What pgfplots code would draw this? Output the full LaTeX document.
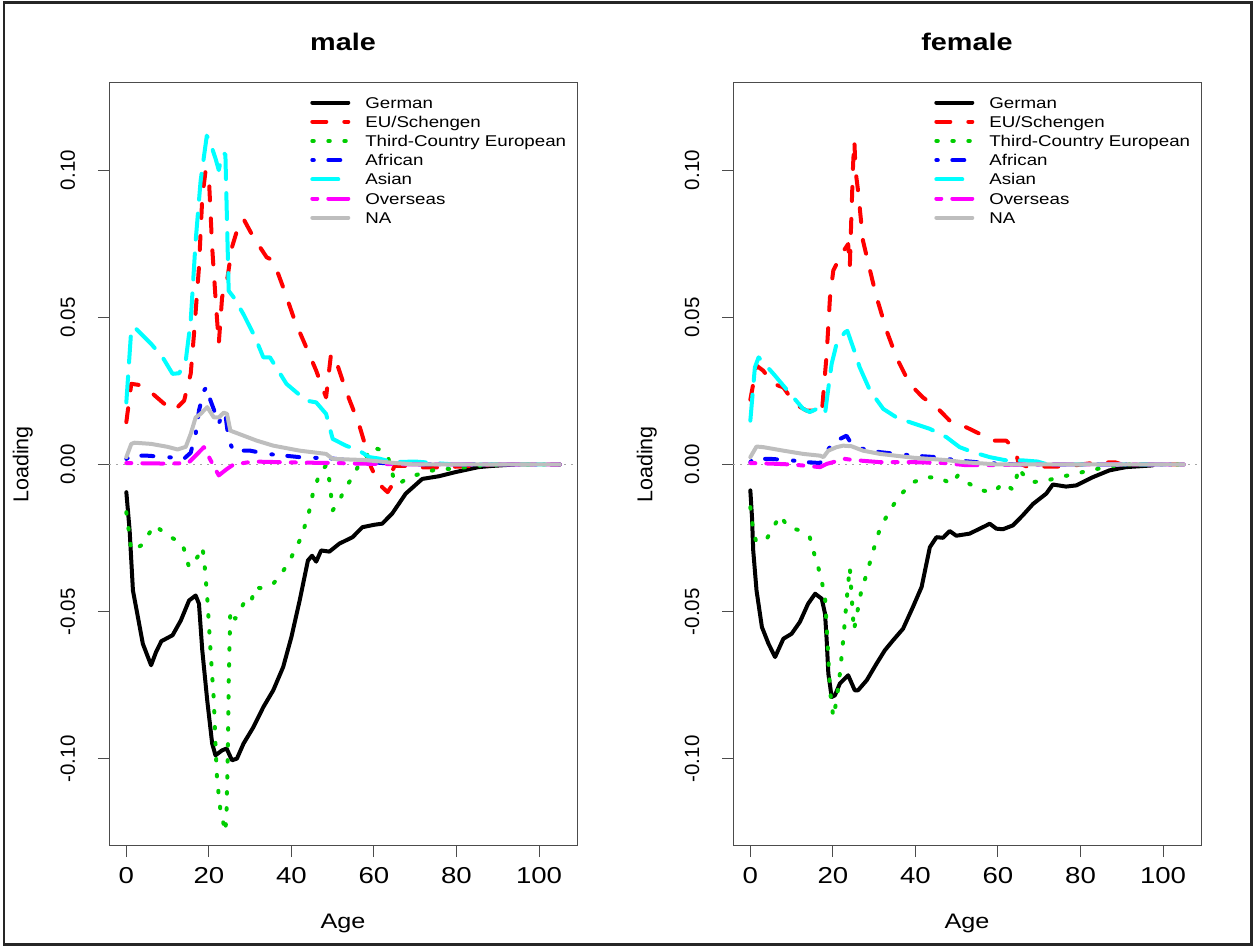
\documentclass[border=0pt]{standalone}
\usepackage{fontspec}
\setmainfont{Liberation Sans}[FakeStretch=1.2]
\newfontfamily\rotfont{Liberation Sans}
\usepackage{pgfplots}
\pgfplotsset{compat=1.18}
\definecolor{rgreen}{RGB}{0,205,0}
\definecolor{rgray}{RGB}{190,190,190}
\definecolor{rred}{RGB}{255,0,0}
\definecolor{rblue}{RGB}{0,0,255}
\definecolor{rcyan}{RGB}{0,255,255}
\definecolor{rmagenta}{RGB}{255,0,255}
\newcommand{\fs}[1]{\fontsize{#1}{#1}\selectfont}
\pgfplotsset{
  sGer/.style={black, solid},
  sEU/.style={rred, dash pattern=on 14bp off 18bp},
  sTC/.style={rgreen, dash pattern=on 1.5bp off 14.5bp},
  sAf/.style={rblue, dash pattern=on 1.5bp off 14.5bp on 12bp off 16bp},
  sAs/.style={rcyan, dash pattern=on 26bp off 14bp},
  sOv/.style={rmagenta, dash pattern=on 5bp off 11bp on 21bp off 11bp},
  sNA/.style={rgray, solid},
  panel/.style={
    scale only axis, width=468bp, height=763bp,
    xmin=-4.2, xmax=109.2, ymin=-0.1296, ymax=0.1296,
    axis line style={draw=black!70, line width=1bp},
    tick pos=left, tick align=outside, major tick length=11bp,
    tick style={draw=black!70, line width=1bp},
    xtick={0,20,40,60,80,100}, xticklabels={0,20,40,60,80,100},
    ytick={-0.1,-0.05,0,0.05,0.1}, yticklabels={-0.10,-0.05,0.00,0.05,0.10},
    xticklabel style={font=\fs{23bp}, anchor=north, inner sep=0pt, yshift=-10bp},
    yticklabel style={font=\rotfont\fs{20.5bp}, xshift=-23bp, rotate=90, anchor=base, inner sep=0pt},
    every axis x label/.style={at={(axis description cs:0.5,0)}, yshift=-82bp, anchor=base, font=\fs{21bp}},
    every axis y label/.style={at={(axis description cs:0,0.5)}, xshift=-80.7bp, rotate=90, anchor=base, font=\rotfont\fs{21.5bp}},
    title style={at={(axis description cs:0.5,1)}, yshift=27bp, anchor=base, inner sep=0pt, font=\bfseries\fs{24bp}},
    xlabel=Age, ylabel=Loading,
    legend style={draw=none, fill=none, at={(0.4297,0.982)}, anchor=north west, inner sep=0pt,
      row sep=8bp, nodes={inner sep=0pt, text height=11.2bp, text depth=0bp, font=\fs{15.6bp}},
      /tikz/every odd column/.append style={column sep=15bp}, cells={anchor=west}},
    legend image code/.code={\draw[#1] (0bp,0bp) -- (36bp,0bp);},
    every axis plot/.append style={line width=4bp, line cap=round, line join=round},
  }
}
\begin{document}
\begin{tikzpicture}
\useasboundingbox (0bp,0bp) rectangle (1255bp,947bp);
% ---------------- male ----------------
\begin{axis}[panel, at={(109bp,101bp)}, anchor=south west, title=male]
\addplot[forget plot, gray!70, line width=1bp, line cap=butt, dash pattern=on 2bp off 5bp] coordinates {(-4.2,0) (109.2,0)};
\addplot[sGer] coordinates {(0,-0.0094) (0.8,-0.0224) (1.6,-0.0428) (2.8,-0.0518) (4,-0.0609) (6,-0.0682) (7.2,-0.0637) (8.5,-0.0600) (9.6,-0.0592) (11.2,-0.058) (13.2,-0.053) (15.2,-0.0462) (16.8,-0.0445) (17.6,-0.0473) (18.4,-0.0631) (19.6,-0.0801) (20.8,-0.0948) (21.6,-0.0988) (23.2,-0.0971) (24.3,-0.0965) (25.6,-0.1005) (26.8,-0.0999) (28.4,-0.0948) (30.8,-0.0892) (33.2,-0.0824) (35.6,-0.0767) (38,-0.0688) (40,-0.0586) (42,-0.0462) (44,-0.0326) (45,-0.031) (46,-0.0330) (47.2,-0.0292) (49.2,-0.0296) (51.6,-0.0269) (54.8,-0.0247) (57.2,-0.0213) (60,-0.0205) (62,-0.0201) (64.4,-0.0167) (67.7,-0.0099) (71.7,-0.0049) (75.7,-0.0040) (79.7,-0.0026) (85.3,-0.0009) (88.5,-0.0005) (94,0)};
\addplot[sEU] coordinates {(0,0.0144) (1.2,0.0274) (3.2,0.027) (6,0.0245) (9.2,0.0206) (11.6,0.0183) (14,0.0217) (15.6,0.0308) (16.4,0.0444) (17.6,0.067) (18.4,0.0907) (19.2,0.0998) (20,0.0975) (20.8,0.0738) (21.6,0.0568) (22.4,0.041) (23.2,0.0568) (24.4,0.0625) (25.6,0.0738) (26.8,0.0794) (28.4,0.0834) (30.8,0.0772) (34,0.0704) (35.6,0.0693) (38,0.0602) (40.8,0.0489) (43.6,0.0398) (46,0.0319) (48.4,0.0228) (49.6,0.0376) (50.8,0.0353) (53.2,0.0251) (56.4,0.0135) (58,0.006) (59.3,-0.0009) (60.5,-0.0045) (62,-0.0077) (63.3,-0.0094) (64.1,-0.0077) (64.5,-0.002) (65,-0.0005) (68,-0.0005) (71,-0.001) (76,-0.001) (84,-0.0005) (90,0) (105,0)};
\addplot[sTC] coordinates {(0,-0.0162) (0.8,-0.0247) (1.2,-0.0292) (3.6,-0.0275) (6.8,-0.0207) (10.8,-0.0247) (13.6,-0.0269) (15.2,-0.0349) (17.2,-0.0315) (18.4,-0.0281) (18.8,-0.0315) (19.6,-0.045) (20.4,-0.0631) (21.2,-0.0801) (21.6,-0.0948) (22,-0.1073) (22.8,-0.1174) (24,-0.1248) (24.3,-0.117) (24.6,-0.0971) (24.8,-0.0744) (25.2,-0.0496) (26.4,-0.0524) (28.4,-0.0473) (30,-0.0479) (31.2,-0.0416) (32.4,-0.042) (35.6,-0.0405) (37.6,-0.0371) (39.6,-0.0326) (42,-0.0258) (44,-0.0179) (45.2,-0.0099) (46.8,-0.0032) (48.4,-0.0003) (49.2,-0.0054) (50,-0.0156) (51.6,-0.0122) (53.2,-0.0077) (54.8,-0.0043) (56.4,0) (58,0.0025) (59.6,0.0059) (61.9,0.0048) (63.3,0.003) (64.1,-0.001) (64.9,-0.0054) (66,-0.0066) (68.5,-0.0043) (72.5,-0.0026) (75.7,-0.0015) (79.7,-0.0015) (84,-0.0005) (90,0) (105,0)};
\addplot[sAf] coordinates {(0,0.0019) (1.2,0.003) (5,0.003) (10,0.0025) (14,0.002) (15.6,0.004) (16.8,0.0104) (17.6,0.0183) (18.8,0.0251) (19.4,0.0262) (20.4,0.0217) (21.6,0.0172) (22.4,0.0138) (23.2,0.0172) (24,0.0172) (24.8,0.0081) (26,0.0047) (30,0.0047) (34,0.0036) (42,0.0025) (50,0.002) (56,0.0012) (62,0.0005) (70,0) (105,0)};
\addplot[sAs] coordinates {(0,0.0211) (1.2,0.046) (2,0.0466) (6,0.041) (8.8,0.0364) (11.2,0.0308) (12.8,0.031) (14.4,0.0353) (15.6,0.0489) (16.8,0.076) (18,0.0964) (19.5,0.1117) (20.4,0.109) (21.6,0.104) (22.4,0.100) (23.2,0.1055) (24,0.1055) (24.8,0.059) (26,0.0568) (28.4,0.051) (31.2,0.0432) (33.2,0.0364) (34.8,0.0364) (38.8,0.0274) (43.6,0.0217) (46,0.0211) (48.4,0.0172) (50,0.0087) (53.2,0.0064) (56.4,0.0047) (58.9,0.0025) (61.3,0.002) (64.5,0.0008) (70,0.001) (76.4,0.0003) (80,0) (105,0)};
\addplot[sOv] coordinates {(0,0.0005) (10,0.0003) (15,0.0005) (17.2,0.0036) (18.8,0.0059) (20.4,0.0015) (22.4,-0.0037) (24.4,-0.0015) (26,0) (30.8,0.001) (40,0.0007) (50,0.0005) (60,0.0002) (70,0) (105,0)};
\addplot[sNA] coordinates {(0,0.0025) (1.2,0.007) (2,0.0074) (6,0.007) (10,0.006) (12.4,0.0051) (14.4,0.006) (15.6,0.0104) (16.8,0.016) (18,0.0172) (19.6,0.0195) (21.2,0.016) (22.4,0.016) (23.6,0.0176) (24.4,0.0172) (25.2,0.0115) (28.4,0.0098) (31.6,0.0081) (35.6,0.0064) (42,0.0047) (48.4,0.0036) (50,0.0019) (58,0.0015) (65,0.0005) (70,0) (105,0)};
\legend{German, EU/Schengen, Third-Country European, African, Asian, Overseas, NA}
\end{axis}
% ---------------- female ----------------
\begin{axis}[panel, at={(733bp,101bp)}, anchor=south west, title=female]
\addplot[forget plot, gray!70, line width=1bp, line cap=butt, dash pattern=on 2bp off 5bp] coordinates {(-4.2,0) (109.2,0)};
\addplot[sGer] coordinates {(0,-0.0088) (0.4,-0.0179) (0.7,-0.0292) (1.5,-0.0428) (2.8,-0.0552) (4.4,-0.0609) (6,-0.0654) (8,-0.0592) (10,-0.0575) (12,-0.0535) (14,-0.0473) (15.7,-0.0439) (17.3,-0.0456) (18.1,-0.0507) (18.5,-0.0597) (18.9,-0.0710) (19.7,-0.079) (20.5,-0.0784) (21.7,-0.0744) (23.7,-0.0716) (25.3,-0.0767) (26.1,-0.0767) (28.2,-0.0733) (30.6,-0.0676) (32.6,-0.0631) (34.6,-0.0597) (37,-0.0558) (39.4,-0.0484) (41.5,-0.0416) (43.5,-0.0281) (45.1,-0.0247) (46.7,-0.0249) (48.3,-0.0226) (49.9,-0.0242) (53.1,-0.0235) (55.6,-0.0218) (57.2,-0.0207) (58,-0.0201) (59.6,-0.0218) (61.2,-0.0220) (63.6,-0.0207) (66,-0.0173) (68.5,-0.0134) (71.7,-0.0099) (73.3,-0.0068) (76.5,-0.0075) (79,-0.0071) (83,-0.0043) (87,-0.002) (91,-0.0009) (97.5,-0.0003)};
\addplot[sEU] coordinates {(0,0.022) (1.5,0.0336) (3.1,0.0319) (5.6,0.0274) (8,0.0262) (10.8,0.0206) (13.6,0.0183) (16.1,0.0183) (17.3,0.0172) (17.7,0.024) (18.5,0.0376) (19.3,0.0568) (20.1,0.0659) (21.7,0.0704) (22.9,0.0732) (23.7,0.0749) (24.1,0.067) (24.5,0.0851) (24.9,0.102) (25.2,0.110) (25.5,0.0998) (26.1,0.093) (27.3,0.076) (29,0.0659) (30.6,0.0568) (33,0.0455) (35.4,0.0364) (38.6,0.0274) (41.8,0.0228) (45.1,0.0195) (48.3,0.0149) (51.5,0.0132) (55.6,0.0104) (58.8,0.0081) (62,0.0081) (63.6,0.0059) (64.4,0.0036) (65,0.0005) (67,-0.0007) (77,-0.0007) (80,0) (84,0.0007) (88.5,0.0007) (90,0) (105,0)};
\addplot[sTC] coordinates {(0,-0.0145) (0.8,-0.0235) (1.5,-0.0264) (4,-0.0252) (5.6,-0.0213) (7.2,-0.0173) (9.2,-0.0213) (12,-0.0224) (14.4,-0.0247) (15.7,-0.0315) (16.9,-0.0371) (18.1,-0.045) (18.5,-0.0552) (18.9,-0.0654) (19.3,-0.0767) (20.1,-0.0858) (20.9,-0.0801) (21.7,-0.0710) (22.5,-0.0597) (23.2,-0.0484) (23.7,-0.0405) (24.1,-0.0349) (24.5,-0.0439) (25.1,-0.0563) (25.7,-0.0518) (26.9,-0.0428) (28.2,-0.0371) (29.8,-0.0292) (31.4,-0.0218) (33.8,-0.0156) (36.2,-0.0105) (39.5,-0.006) (42.7,-0.0043) (45.9,-0.0045) (48.7,-0.0066) (50.3,-0.0037) (53.1,-0.0066) (56,-0.0088) (59,-0.0094) (61.2,-0.0063) (63.6,-0.0085) (64.4,-0.005) (65,-0.0011) (66,-0.0032) (68.2,-0.006) (71.7,-0.0055) (74.9,-0.0043) (78.4,-0.0033) (82.2,-0.002) (85.9,-0.001) (90,0) (105,0)};
\addplot[sAf] coordinates {(0,0.0008) (0.8,0.0019) (5,0.0019) (10,0.0014) (13.6,0.0008) (16.9,0.0005) (18.5,0.0047) (20.9,0.0081) (23.3,0.0098) (24.5,0.007) (27.3,0.0053) (31.4,0.0042) (39.5,0.003) (45.1,0.0025) (50,0.0014) (57,0.0005) (65,0) (105,0)};
\addplot[sAs] coordinates {(0,0.0149) (1.1,0.033) (2,0.0364) (3.1,0.0347) (5.6,0.0308) (8,0.0268) (10.4,0.0228) (12.8,0.0189) (14.4,0.0178) (16.1,0.0189) (18.1,0.0172) (18.5,0.0217) (19.7,0.0342) (20.9,0.041) (22.9,0.0449) (23.5,0.0454) (24.9,0.0398) (26.5,0.033) (29,0.0251) (32.2,0.0189) (35.4,0.016) (38.6,0.0144) (43.5,0.0121) (47.5,0.0093) (50.7,0.0059) (53.9,0.0042) (58,0.0025) (62,0.0014) (66,0.0014) (69.6,0.001) (72,0) (105,0)};
\addplot[sOv] coordinates {(0,0.0005) (5,0.0003) (10,0.0) (14,-0.0005) (16.9,-0.0009) (18.5,0.0002) (22.9,0.0019) (25,0.0015) (31.4,0.0008) (39.5,0.0008) (47,0.0005) (52,-0.0002) (60,-0.0002) (65,0) (105,0)};
\addplot[sNA] coordinates {(0,0.0025) (1.5,0.0061) (3.1,0.0059) (8,0.0047) (12.8,0.0036) (16.9,0.003) (17.7,0.0025) (18.9,0.0047) (20.9,0.0059) (22.5,0.0064) (24.5,0.0062) (27.3,0.0047) (31.4,0.0036) (39.5,0.0023) (47.5,0.0015) (51.5,0.0008) (60,0) (105,0)};
\legend{German, EU/Schengen, Third-Country European, African, Asian, Overseas, NA}
\end{axis}
\draw[line width=2.5bp, black!85] (4bp,2.5bp) rectangle (1251.5bp,944.5bp);
\end{tikzpicture}
\end{document}
